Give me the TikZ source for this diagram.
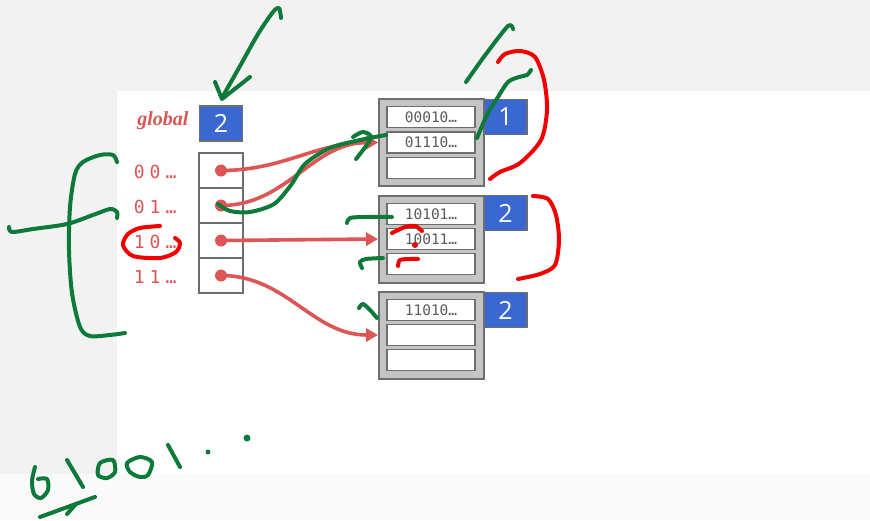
\documentclass[tikz,border=0pt]{standalone}
\usepackage{fontspec}
\setmainfont{Liberation Serif}
\newfontfamily\slotfont{DejaVu Sans Mono}
\newfontfamily\dirfont[LetterSpace=28]{DejaVu Sans Mono}
\newfontfamily\numfont{Open Sans}
\usepackage{tikz}
\usetikzlibrary{arrows.meta}

\definecolor{ptrred}{HTML}{DD5555}
\definecolor{inkgreen}{HTML}{0E7A3A}
\definecolor{inkred}{HTML}{F20000}
\definecolor{depthblue}{HTML}{3B67D0}
\definecolor{framegray}{HTML}{6E6E6E}
\definecolor{bucketgray}{HTML}{C4C4C4}
\definecolor{slottext}{HTML}{5A5A5A}

\tikzset{
  cell/.style={draw=framegray, line width=1.5pt, fill=white, minimum width=44pt, minimum height=35pt, inner sep=0pt},
  depth/.style={draw=framegray, line width=1.5pt, fill=depthblue, text=white, font=\numfont\fontsize{25}{25}\selectfont, minimum width=43pt, minimum height=35pt, inner sep=0pt},
  bucket/.style={draw=framegray, line width=2pt, fill=bucketgray, minimum width=105pt, minimum height=87pt, inner sep=0pt},
  slot/.style={draw=framegray, line width=1.5pt, fill=white, minimum width=88pt, minimum height=21pt, inner sep=0pt, text=slottext, font=\slotfont\fontsize{14.5}{14.5}\selectfont},
  hashlbl/.style={text=ptrred, font=\dirfont\fontsize{18}{18}\selectfont, anchor=east},
  ptrdot/.style={circle, fill=ptrred, minimum size=12pt, inner sep=0pt},
  ptr/.style={ptrred, line width=3.6pt, -{Triangle[length=12pt,width=13pt]}},
  greenink/.style={inkgreen, line width=4pt, line cap=round, line join=round},
  redink/.style={inkred, line width=4pt, line cap=round, line join=round}
}

\begin{document}
\begin{tikzpicture}[x=1pt,y=-1pt]
  \useasboundingbox (0,0) rectangle (870,520);
  % page background
  \fill[black!5] (0,0) rectangle (870,520);
  \fill[white] (117,91) rectangle (870,474);
  \fill[black!2] (0,474) rectangle (870,520);

  % global depth and directory
  \node[text=ptrred, font=\bfseries\itshape\fontsize{20}{20}\selectfont, anchor=east] (glbl) at (192,121) {global};
  \node[depth] (gdepth) at (221,123.5) {2};
  \node[cell] (dir0) at (221,170.5) {};
  \node[cell] (dir1) at (221,205.5) {};
  \node[cell] (dir2) at (221,240.5) {};
  \node[cell] (dir3) at (221,275.5) {};
  \node[hashlbl] (h0) at (180,172) {00…};
  \node[hashlbl] (h1) at (180,207) {01…};
  \node[hashlbl] (h2) at (180,242) {10…};
  \node[hashlbl] (h3) at (180,277) {11…};

  % buckets
  \node[bucket] (b1) at (431.5,142.5) {};
  \node[slot] (b1s1) at (431,117) {00010…};
  \node[slot] (b1s2) at (431,142.5) {01110…};
  \node[slot] (b1s3) at (431,168) {};
  \node[depth] (d1) at (505.5,117) {1};

  \node[bucket] (b2) at (431.5,239) {};
  \node[slot] (b2s1) at (431,214) {10101…};
  \node[slot] (b2s2) at (431,239) {10011…};
  \node[slot] (b2s3) at (431,264) {};
  \node[depth] (d2) at (505.5,213) {2};

  \node[bucket] (b3) at (431.5,335) {};
  \node[slot] (b3s1) at (431,310) {11010…};
  \node[slot] (b3s2) at (431,335) {};
  \node[slot] (b3s3) at (431,360) {};
  \node[depth] (d3) at (505.5,310) {2};

  % pointers
  \node[ptrdot] (p0) at (dir0.center) {};
  \node[ptrdot] (p1) at (dir1.center) {};
  \node[ptrdot] (p2) at (dir2.center) {};
  \node[ptrdot] (p3) at (dir3.center) {};
  \draw[ptr] (p0.center) to[out=0,in=180] (b1.west);
  \draw[ptr] (p1.center) to[out=0,in=180] (b1.west);
  \draw[ptr] (p2.center) -- (b2.west);
  \draw[ptr] (p3.center) to[out=0,in=180] (b3.west);

  % green pen
  \draw[greenink] plot[smooth] coordinates {(281,18) (279,8) (273,12) (258,34) (240,66) (223,96)};
  \draw[greenink] plot coordinates {(215,82) (222,99) (250,77)};
  \draw[greenink] plot[smooth] coordinates {(117,162) (113,155) (100,155) (83,162) (75,174) (70,207) (69,250) (72,293) (80,327) (90,336) (110,335) (125,333)};
  \draw[greenink] plot[smooth] coordinates {(9,227) (12,232) (33,229) (67,224) (93,215) (110,209) (117,212) (117,218)};
  \draw[greenink] plot[smooth] coordinates {(218,204) (230,211) (250,212) (274,204) (291,185) (305,164) (330,148) (360,140) (386,135)};
  \draw[greenink] plot[smooth] coordinates {(353,137) (363,132) (371,138) (356,159)};
  \draw[greenink] plot[smooth] coordinates {(466,82) (486,54) (508,26) (513,29)};
  \draw[greenink] plot[smooth] coordinates {(477,138) (487,115) (498,97) (508,82) (519,77) (527,75) (531,70)};
  \draw[greenink] plot[smooth] coordinates {(347,223) (350,218) (365,217) (392,217)};
  \draw[greenink] plot[smooth] coordinates {(362,268) (360,262) (366,259) (383,258)};
  \draw[greenink] plot[smooth] coordinates {(359,308) (363,304) (370,310) (377,318)};
  % 01001..
  \draw[greenink] plot[smooth] coordinates {(35,467) (32,481) (34,494) (41,498) (48,490) (47,479) (38,479)};
  \draw[greenink] (67,460) -- (83,487);
  \draw[greenink] plot[smooth cycle] coordinates {(100,463) (113,460) (115,472) (107,478) (98,475)};
  \draw[greenink] plot[smooth cycle] coordinates {(127,463) (140,457) (152,462) (148,475) (140,477) (130,472)};
  \draw[greenink] (168,445) -- (180,467);
  \fill[inkgreen] (208,452) circle (2.5pt);
  \fill[inkgreen] (247,438) circle (3.5pt);
  \draw[greenink] (40,517) -- (95,497);
  \draw[greenink] (67,514) -- (76,504);

  % red pen
  \draw[redink] plot[smooth] coordinates {(160,226) (140,228) (128,234) (123,245) (133,256) (160,258) (176,252) (180,243) (175,238)};
  \draw[redink] plot[smooth] coordinates {(498,62) (505,54) (520,51) (535,57) (544,80) (547,110) (541,140) (520,163) (500,172) (490,179)};
  \draw[redink] plot[smooth] coordinates {(533,196) (548,199) (556,215) (559,240) (555,265) (540,274) (518,279)};
  \draw[redink] plot[smooth] coordinates {(392,233) (405,227) (415,226) (422,231)};
  \fill[inkred] (415,245) circle (3pt);
  \draw[redink] plot[smooth] coordinates {(398,266) (400,260) (410,259) (418,259)};
\end{tikzpicture}
\end{document}
